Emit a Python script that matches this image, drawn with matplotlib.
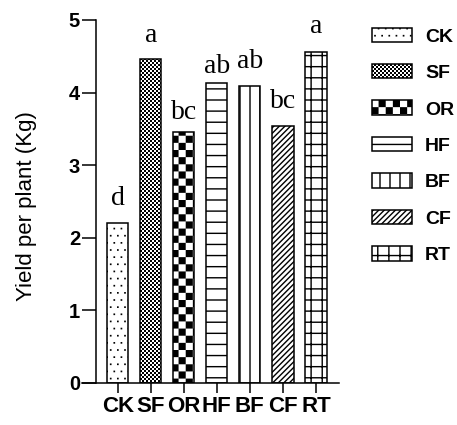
import numpy as np
import matplotlib
matplotlib.use("Agg")
import matplotlib.pyplot as plt
import matplotlib.hatch as mhatch
from matplotlib.path import Path

# ---------------- data ----------------
categories = ["CK", "SF", "OR", "HF", "BF", "CF", "RT"]
yield_kg = [2.20, 4.46, 3.46, 4.13, 4.09, 3.54, 4.56]
letters = ["d", "a", "bc", "ab", "ab", "bc", "a"]
letter_gap = [0.25, 0.24, 0.18, 0.14, 0.25, 0.25, 0.26]
hatches = [".", "o", "O", "-", "|", "/", "+"]
yticks = [0, 1, 2, 3, 4, 5]

# ---------------- custom hatch patterns (filled shapes) ----------------
MOVE, LINE, CLOSE = Path.MOVETO, Path.LINETO, Path.CLOSEPOLY


def _rect(x0, y0, x1, y1):
    return [(x0, y0), (x1, y0), (x1, y1), (x0, y1), (x0, y0)], [MOVE, LINE, LINE, LINE, CLOSE]


class _Filled(mhatch.HatchPatternBase):
    char = None

    def __init__(self, hatch, density):
        if hatch.count(self.char):
            self.verts, self.codes = self.build()
        else:
            self.verts, self.codes = [], []
        self.num_vertices = len(self.verts)

    def set_vertices_and_codes(self, vertices, codes):
        vertices[:] = np.asarray(self.verts, float)
        codes[:] = np.asarray(self.codes)


class Dots(_Filled):
    char = "."

    def build(self):
        n, d = 14, 0.017
        V, C = [], []
        for r in range(n + 1):
            y = r / n
            shift = 0.5 / n if r % 2 else 0.0
            for c in range(n + 1):
                x = c / n + shift
                v, cc = _rect(x - d / 2, y - d / 2, x + d / 2, y + d / 2)
                V += v; C += cc
        return V, C


class Checker(_Filled):
    char = "o"
    k = 50

    def build(self):
        k = self.k
        s = 1.0 / k
        V, C = [], []
        for i in range(k):
            for j in range(k):
                if (i + j) % 2 == 0:
                    v, cc = _rect(i * s, j * s, (i + 1) * s, (j + 1) * s)
                    V += v; C += cc
        return V, C


class BigChecker(Checker):
    char = "O"
    k = 14


LW = 0.014


class HLines(_Filled):
    char = "-"
    n = 9

    def build(self):
        V, C = [], []
        for i in range(self.n + 1):
            y = i / self.n
            v, cc = _rect(-0.1, y - LW / 2, 1.1, y + LW / 2)
            V += v; C += cc
        return V, C


class VLines(_Filled):
    char = "|"
    n = 10

    def build(self):
        V, C = [], []
        for i in range(self.n + 1):
            x = i / self.n
            v, cc = _rect(x - LW / 2, -0.1, x + LW / 2, 1.1)
            V += v; C += cc
        return V, C


class Grid(_Filled):
    char = "+"
    n = 9

    def build(self):
        V, C = [], []
        for i in range(self.n + 1):
            t = i / self.n
            v, cc = _rect(-0.1, t - LW / 2, 1.1, t + LW / 2)
            V += v; C += cc
            v, cc = _rect(t - LW / 2, -0.1, t + LW / 2, 1.1)
            V += v; C += cc
        return V, C


class Diag(_Filled):
    char = "/"
    n = 18

    def build(self):
        V, C = [], []
        h = LW * np.sqrt(2) / 2
        for i in range(-self.n - 1, self.n + 2):
            c = i / self.n
            x0, x1 = -0.2, 1.2
            V += [(x0, x0 + c - h), (x1, x1 + c - h), (x1, x1 + c + h),
                  (x0, x0 + c + h), (x0, x0 + c - h)]
            C += [MOVE, LINE, LINE, LINE, CLOSE]
        return V, C


mhatch._hatch_types = [Dots, Checker, BigChecker, HLines, VLines, Grid, Diag]

# ---------------- figure ----------------
plt.rcParams["font.family"] = ["Liberation Sans", "DejaVu Sans"]
plt.rcParams["hatch.linewidth"] = 0.0
plt.rcParams["hatch.color"] = "black"

fig = plt.figure(figsize=(4.57, 4.25), dpi=100)
ax = fig.add_axes([96 / 457, 42 / 425, 243 / 457, 363 / 425])

x = np.arange(len(categories))
bars = ax.bar(x, yield_kg, width=0.645, color="white", edgecolor="black",
              linewidth=1.1, zorder=2)
for b, h in zip(bars, hatches):
    b.set_hatch(h)
    if hasattr(b, "set_hatch_linewidth"):
        b.set_hatch_linewidth(0.0)

for xi, v, g, t in zip(x, yield_kg, letter_gap, letters):
    ax.text(xi, v + g, t, ha="center", va="baseline",
            fontfamily=["Liberation Serif", "DejaVu Serif"], fontsize=20)

ax.set_xlim(-0.657, 6.70)
ax.set_ylim(0, 5)
ax.set_yticks(yticks)
ax.set_yticklabels([str(t) for t in yticks], fontweight="bold", fontsize=14.5)
ax.set_xticks(x)
ax.set_xticklabels(categories, fontweight="bold", fontsize=16)

for s in ["top", "right"]:
    ax.spines[s].set_visible(False)
for s in ["left", "bottom"]:
    ax.spines[s].set_linewidth(1.1)
ax.spines["bottom"].set_bounds(-0.657 - 14 / 33.05, 6.70)
ax.spines["bottom"].set_clip_on(False)

ax.tick_params(axis="y", direction="out", length=10, width=1.1, pad=1.5)
ax.tick_params(axis="x", direction="out", length=7.5, width=1.1, pad=2)

ax.set_ylabel("Yield per plant (Kg)", fontsize=16)
ax.yaxis.set_label_coords(-0.243, 0.488)

leg = ax.legend(bars, categories, loc="upper left",
                bbox_to_anchor=(372 / 457, 1 - 27.5 / 425),
                bbox_transform=fig.transFigure, frameon=False,
                prop={"weight": "bold", "size": 14},
                handlelength=2.06, handleheight=0.77, handletextpad=0.67,
                labelspacing=0.95, borderpad=0, borderaxespad=0)

fig.savefig("out.png", dpi=100)
